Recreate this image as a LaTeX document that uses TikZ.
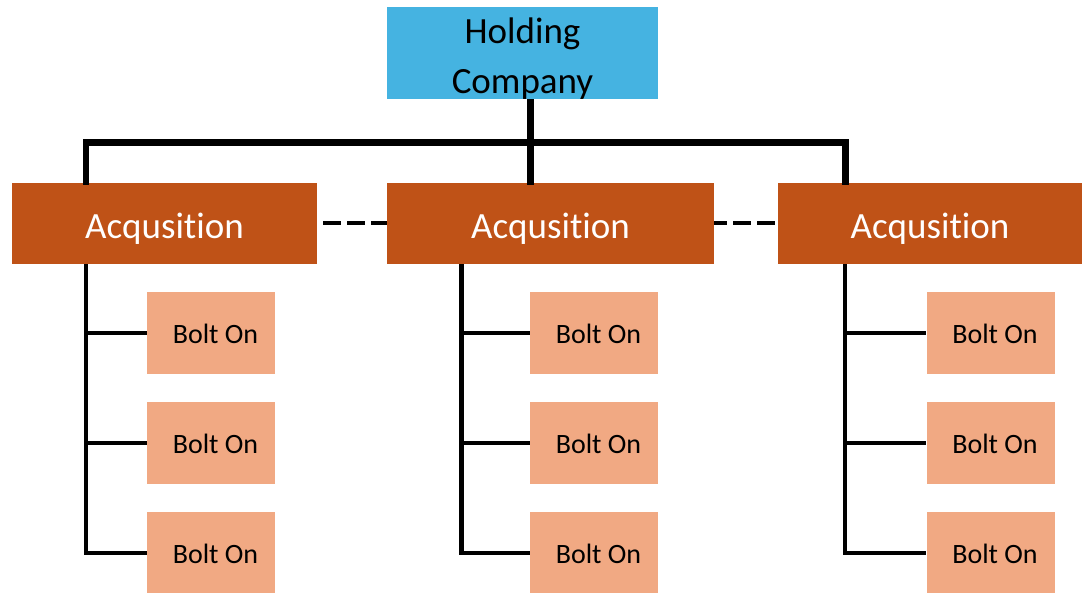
\documentclass[tikz,border=0pt]{standalone}
\usepackage{fontspec}
\setmainfont[Ligatures=NoCommon]{Carlito}
\definecolor{holdblue}{HTML}{45B3E1}
\definecolor{acqbrown}{HTML}{BF5217}
\definecolor{boltpeach}{HTML}{F1A983}
\tikzset{
  holdbox/.style={fill=holdblue, draw=none, inner sep=0pt, minimum width=271pt, minimum height=92pt, font=\fontsize{37}{50}\selectfont, text=black, text height=46pt, text depth=46pt},
  acqbox/.style={fill=acqbrown, draw=none, inner sep=0pt, minimum height=81pt, font=\fontsize{37}{44}\selectfont, text=white, text height=36pt, text depth=5.8pt},
  boltbox/.style={fill=boltpeach, draw=none, inner sep=0pt, minimum width=128pt, minimum height=81.7pt, font=\fontsize{28}{34}\selectfont, text=black, text height=26pt, text depth=4pt},
  trunk/.style={line width=6.5pt, draw=black, line join=miter},
  branch/.style={line width=4.5pt, draw=black, line join=miter},
  peer/.style={line width=4pt, draw=black, dash pattern=on 18pt off 6pt}
}
\begin{document}
\begin{tikzpicture}[x=1pt, y=-1pt]
\useasboundingbox (0,0) rectangle (1082,593);
% boxes
\node[holdbox] (hc) at (522.5,53) {\raisebox{-12pt}{\begin{tabular}{@{}c@{}}Holding\\Company\end{tabular}}};
\node[acqbox, minimum width=305pt] (a1) at (164.5,223.5) {Acqusition};
\node[acqbox, minimum width=327pt] (a2) at (550.5,223.5) {Acqusition};
\node[acqbox, minimum width=304pt] (a3) at (930,223.5) {Acqusition};
\foreach \c/\x in {1/211,2/594,3/990.5}{
  \node[boltbox] (b\c1) at (\x,332.85) {\hspace{9pt}Bolt On};
  \node[boltbox] (b\c2) at (\x,442.85) {\hspace{9pt}Bolt On};
  \node[boltbox] (b\c3) at (\x,552.85) {\hspace{9pt}Bolt On};
}
% helper coordinates
\coordinate (bus) at (530.7,142.7);
\coordinate (c1) at (86,0);
\coordinate (c3) at (845.3,0);
\coordinate (l1) at (86,0);
\coordinate (l2) at (461.7,0);
\coordinate (l3) at (845,0);
% top tree
\draw[trunk] ([yshift=-2pt]a1.north -| c1) |- (bus) -| ([yshift=-2pt]a3.north -| c3);
\draw[trunk] (hc.south -| bus) -- ([yshift=-2pt]a2.north -| bus);
% peer dashed links
\draw[peer, dash phase=18pt] (a1.east) -- (a2.west);
\draw[peer, dash phase=21pt] (a3.west) -- (a2.east);
% bolt-on branches
\foreach \c in {1,2,3}{
  \draw[branch] (a\c.south -| l\c) |- (b\c3.west);
  \draw[branch] (b\c1.west -| l\c) -- (b\c1.west);
  \draw[branch] (b\c2.west -| l\c) -- (b\c2.west);
}
\end{tikzpicture}
\end{document}
